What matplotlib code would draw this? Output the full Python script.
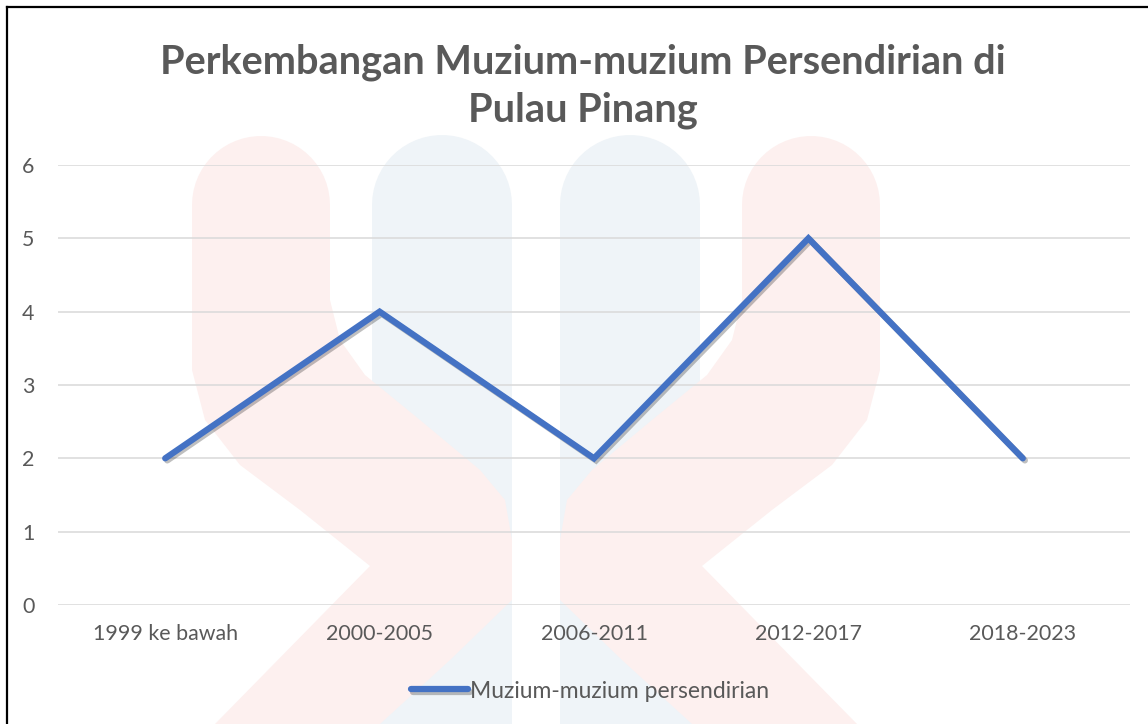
import matplotlib
matplotlib.use("Agg")
import matplotlib.pyplot as plt
import matplotlib.patheffects as pe
from matplotlib.patches import Polygon
from matplotlib.lines import Line2D
import numpy as np

# Data
kategori = ["1999 ke bawah", "2000-2005", "2006-2011", "2012-2017", "2018-2023"]
muzium = [2, 4, 2, 5, 2]
siri_label = "Muzium-muzium persendirian"
tajuk = "Perkembangan Muzium-muzium Persendirian di\nPulau Pinang"

W, H = 1148, 724
plt.rcParams["font.family"] = ["Lato", "DejaVu Sans"]
fig = plt.figure(figsize=(W / 100, H / 100), dpi=100, facecolor="white")


def px(points):
    # piksel (y ke bawah) -> koordinat figura
    return [(x / W, 1 - y / H) for x, y in points]


def pill_top(cx, cy, r, n=30):
    t = np.linspace(np.pi, 0, n)
    return [(cx + r * np.cos(a), cy - r * np.sin(a)) for a in t]


# tera air latar (logo pudar)
merah = "#FDF0EF"
biru = "#EFF4F8"
for cx in [442, 630]:
    pts = pill_top(cx, 205, 70) + [(cx + 70, H), (cx - 70, H)]
    fig.patches.append(Polygon(px(pts), closed=True, facecolor=biru, edgecolor="none",
                               transform=fig.transFigure, zorder=0))
kiri = pill_top(261, 205, 69) + [(330, 300), (340, 340), (365, 375), (420, 420), (480, 470),
                                 (505, 500), (512, 540), (512, 600), (450, 660), (380, 724),
                                 (215, 724), (370, 566), (300, 510), (240, 465), (205, 420),
                                 (192, 370)]
kanan = [(1072 - x, y) for x, y in kiri]
for pts in [kiri, kanan]:
    fig.patches.append(Polygon(px(pts), closed=True, facecolor=merah, edgecolor="none",
                               transform=fig.transFigure, zorder=0.5))

# bingkai hitam kiri & atas
fig.add_artist(Line2D([7 / W, 7 / W], [0, 1 - 7 / H], color="black", lw=1.6, transform=fig.transFigure))
fig.add_artist(Line2D([7 / W, 1], [1 - 7 / H, 1 - 7 / H], color="black", lw=1.6, transform=fig.transFigure))

ax = fig.add_axes([58 / W, (H - 605) / H, (1130 - 58) / W, (605 - 165) / H])
ax.patch.set_alpha(0)
ax.set_zorder(2)

x = np.arange(len(kategori))
ax.plot(x, muzium, color="#4472C4", lw=4.5, solid_capstyle="round", solid_joinstyle="miter",
        label=siri_label, zorder=3,
        path_effects=[pe.SimpleLineShadow(offset=(1.5, -1.5), alpha=0.25, shadow_color="black"),
                      pe.Normal()])

ax.set_xlim(-0.5, len(kategori) - 0.5)
ax.set_ylim(0, 6)
ax.set_yticks(range(0, 7))
ax.set_xticks(x)
ax.set_xticklabels(kategori)
ax.grid(axis="y", color="#D9D9D9", lw=1.1)
ax.set_axisbelow(True)
for s in ax.spines.values():
    s.set_visible(False)
ax.tick_params(length=0, labelsize=15.4, labelcolor="#595959")
ax.tick_params(axis="x", pad=14)
ax.tick_params(axis="y", pad=17)

fig.text(583 / W, 1 - 86 / H, tajuk, ha="center", va="center", fontsize=28.6, fontweight="bold",
         color="#595959", linespacing=1.35, zorder=5)

leg = fig.legend(loc="center", bbox_to_anchor=(590 / W, 1 - 691 / H), frameon=False,
                 fontsize=16.5, handlelength=2.5, handletextpad=0.1)
leg.set_zorder(5)
for t in leg.get_texts():
    t.set_color("#595959")

fig.savefig("out.png", dpi=100, facecolor="white")
